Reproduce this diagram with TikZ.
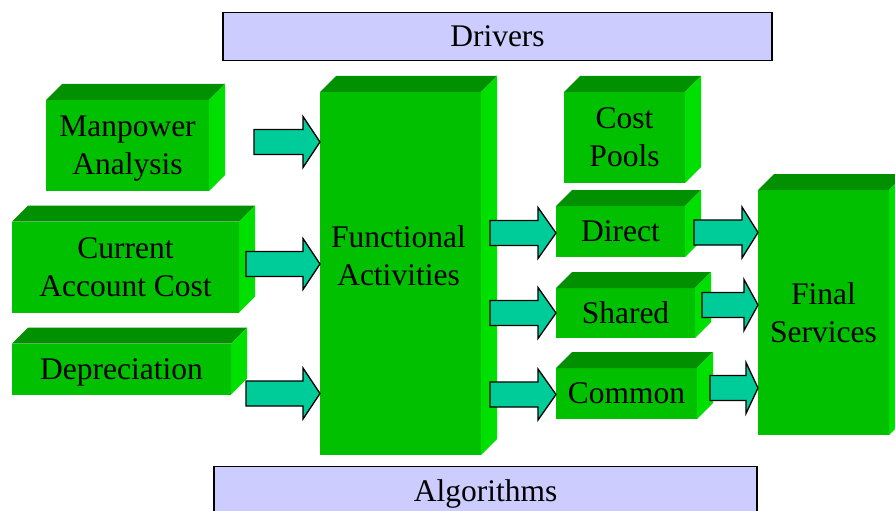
\documentclass[tikz,border=0pt]{standalone}
\usepackage{fontspec}
\setmainfont{Liberation Serif}
\usepackage{xcolor}
\definecolor{boxgreen}{HTML}{00C000}
\definecolor{boxtop}{HTML}{009000}
\definecolor{boxside}{HTML}{00E000}
\definecolor{flowteal}{HTML}{00CC99}
\definecolor{barlilac}{HTML}{CCCCFF}
\usepackage{tikz}
\usetikzlibrary{calc}

\begin{document}
\begin{tikzpicture}[
  x=1pt,
  y=1pt,
  cube/.style={fill=boxgreen, inner sep=0pt, outer sep=0pt, align=center, text depth=0pt,
    font=\fontsize{31.5}{38}\selectfont},
  bar/.style={draw=black, line width=1.5pt, fill=barlilac, minimum height=48pt, inner sep=0pt,
    text depth=0pt, font=\fontsize{31.5}{38}\selectfont},
  topface/.style={fill=boxtop},
  sideface/.style={fill=boxside},
  fatarrow/.style={draw=black, line width=1.3pt, fill=flowteal, line join=miter,
    to path={let \p1=(\tikztostart), \p2=(\tikztotarget) in
      (\x1,\y1+12.5pt) -- (\x2-#1pt,\y1+12.5pt) -- (\x2-#1pt,\y1+25.5pt) -- (\x2,\y1)
      -- (\x2-#1pt,\y1-25.5pt) -- (\x2-#1pt,\y1-12.5pt) -- (\x1,\y1-12.5pt) -- cycle}},
  fatarrow/.default=17,
]

\useasboundingbox (0,0) rectangle (895,-511);

% Driver and algorithm bars
\node[bar, minimum width=549pt] (drivers) at (497.5,-36.5) {Drivers};
\node[bar, minimum width=543pt] (algo) at (485.7,-490.5) {Algorithms};

% Source boxes
\node[cube, minimum width=163pt, minimum height=91pt] (man) at (127.5,-145.5) {Manpower\\Analysis};
\node[cube, minimum width=227pt, minimum height=91pt] (cur) at (125.5,-267) {Current\\Account Cost};
\node[cube, minimum width=219pt, minimum height=51pt] (dep) at (121.5,-369) {Depreciation};

% Activities
\node[cube, minimum width=161pt, minimum height=363pt] (func) at (400.5,-273.5) {};

% Cost pools
\node[cube, minimum width=121pt, minimum height=91pt] (pool) at (624.5,-137.5) {Cost\\Pools};
\node[cube, minimum width=129pt, minimum height=51pt] (direct) at (620.5,-231.5) {Direct};
\node[cube, minimum width=139pt, minimum height=50pt] (shared) at (625.5,-313) {Shared};
\node[cube, minimum width=141pt, minimum height=51pt] (common) at (626.5,-393.5) {Common};

% Final services
\node[cube, minimum width=131pt, minimum height=245pt] (final) at (823.5,-312.5) {Final\\Services};

% Top and side faces of the boxes
\foreach \n in {man,cur,dep,func,pool,direct,shared,common,final}{
  \fill[topface] (\n.north west) -- ++(16,16) -- ($(\n.north east)+(16,16)$) -- (\n.north east) -- cycle;
  \fill[sideface] (\n.north east) -- ++(16,16) -- ($(\n.south east)+(16,16)$) -- (\n.south east) -- cycle;
}

\node[cube, fill=none] (functxt) at (398.5,-256) {Functional\\Activities};

% Flows into the activities
\draw[fatarrow] ($(man.east)+(45,3.5)$) to (func.west);
\draw[fatarrow] ($(cur.east)+(7,3)$) to (func.west);
\draw[fatarrow] ($(dep.east)+(15,-24.5)$) to (func.west);

% Flows into the pools
\draw[fatarrow=18] ($(func.east |- direct.west)+(9,-1.5)$) to (direct.west);
\draw[fatarrow=18] ($(func.east |- shared.west)+(9,0)$) to (shared.west);
\draw[fatarrow=18] ($(func.east |- common.west)+(9,-1)$) to (common.west);

% Flows into the final services
\draw[fatarrow=16] ($(direct.east)+(9,-1)$) to (final.west);
\draw[fatarrow=14] ($(shared.east)+(7,8)$) to (final.west);
\draw[fatarrow=12] ($(common.east)+(13,5.5)$) to (final.west);

\end{tikzpicture}
\end{document}
